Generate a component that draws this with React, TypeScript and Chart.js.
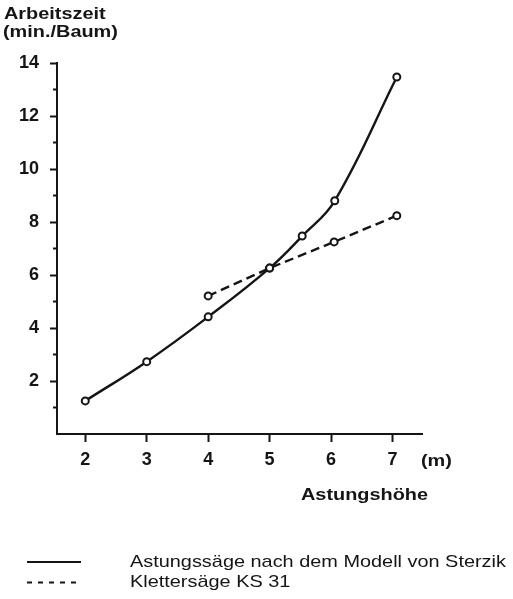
import { useEffect, useRef } from 'react'
import { Chart, registerables } from 'chart.js'

Chart.register(...registerables)

// Astungshöhe (m) / Arbeitszeit (min./Baum)
const sterzikX = [2, 3, 4, 5, 5.53, 6.06, 7.07]
const sterzikY = [1.25, 2.73, 4.42, 6.26, 7.47, 8.8, 13.47]
const ks31X = [4, 5, 6.05, 7.07]
const ks31Y = [5.21, 6.26, 7.25, 8.24]

const xTicks = [2, 3, 4, 5, 6, 7]
const yTicks = [1, 2, 3, 4, 5, 6, 7, 8, 9, 10, 11, 12, 13, 14]

const seriesLabels = ['Astungssäge nach dem Modell von Sterzik', 'Klettersäge KS 31']
const yTitle = ['Arbeitszeit', '(min./Baum)']
const xTitle = 'Astungshöhe'
const xUnit = '(m)'

const INK = '#151515'
const FONT = "'Liberation Sans', Arial, sans-serif"

// the original text is a little wider than Arial, stretch it
function stretchText(ctx: CanvasRenderingContext2D, text: string, x: number, y: number, font: string) {
  ctx.save()
  ctx.translate(x, y)
  ctx.scale(1.17, 1)
  ctx.font = font
  ctx.fillStyle = INK
  ctx.textAlign = 'left'
  ctx.textBaseline = 'alphabetic'
  ctx.fillText(text, 0, 0)
  ctx.restore()
}

const textPlugin = {
  id: 'extraText',
  afterDraw(chart: Chart) {
    const ctx = chart.ctx
    const bold = `bold 17px ${FONT}`
    const plain = `17px ${FONT}`

    stretchText(ctx, yTitle[0], 4, 18.5, bold)
    stretchText(ctx, yTitle[1], 3, 37, bold)
    stretchText(ctx, xUnit, 421, 465.5, bold)
    stretchText(ctx, xTitle, 301, 500, bold)

    // legend
    ctx.save()
    ctx.strokeStyle = INK
    ctx.lineWidth = 2
    ctx.beginPath()
    ctx.moveTo(27, 562)
    ctx.lineTo(81, 562)
    ctx.stroke()
    ctx.setLineDash([5, 6])
    ctx.beginPath()
    ctx.moveTo(27, 582.5)
    ctx.lineTo(77, 582.5)
    ctx.stroke()
    ctx.restore()
    stretchText(ctx, seriesLabels[0], 130, 567, plain)
    stretchText(ctx, seriesLabels[1], 130, 587, plain)
  },
}

export default function App() {
  const canvasRef = useRef<HTMLCanvasElement>(null)

  useEffect(() => {
    if (!canvasRef.current) return
    const pointStyle = {
      pointRadius: 3.5,
      pointBorderWidth: 2,
      pointBackgroundColor: '#ffffff',
      pointBorderColor: INK,
      borderColor: INK,
      borderWidth: 2.4,
      fill: false,
      clip: false as const,
    }
    const chart = new Chart(canvasRef.current, {
      type: 'line',
      data: {
        datasets: [
          {
            label: seriesLabels[0],
            data: sterzikX.map((x, i) => ({ x, y: sterzikY[i] })),
            tension: 0.4,
            ...pointStyle,
          },
          {
            label: seriesLabels[1],
            data: ks31X.map((x, i) => ({ x, y: ks31Y[i] })),
            tension: 0,
            borderDash: [9, 5],
            ...pointStyle,
          },
        ],
      },
      options: {
        responsive: false,
        animation: false,
        layout: { padding: { left: 0, top: 63, right: 91, bottom: 125 } },
        plugins: {
          legend: { display: false },
          tooltip: { enabled: false },
        },
        scales: {
          x: {
            type: 'linear',
            min: 1.54,
            max: 7.48,
            afterBuildTicks: (scale: any) => {
              scale.ticks = xTicks.map((v) => ({ value: v }))
            },
            afterFit: (scale: any) => {
              scale.height = 40
            },
            border: { display: true, color: INK, width: 2 },
            grid: { drawOnChartArea: false, tickLength: 8, tickColor: INK, tickWidth: 2 },
            ticks: {
              color: INK,
              padding: 7,
              font: { family: FONT, size: 18, weight: 'bold' },
              callback: (v: any) => String(v),
            },
          },
          y: {
            type: 'linear',
            min: 0,
            max: 14,
            afterBuildTicks: (scale: any) => {
              scale.ticks = yTicks.map((v) => ({ value: v }))
            },
            afterFit: (scale: any) => {
              scale.width = 57
            },
            border: { display: true, color: INK, width: 2 },
            grid: {
              drawOnChartArea: false,
              tickLength: 7,
              tickColor: INK,
              tickWidth: 2,
              // odd values get a short tick: dash starts with a gap
              tickBorderDash: (c: any) => (c.tick && c.tick.value % 2 ? [4, 3] : []),
              tickBorderDashOffset: (c: any) => (c.tick && c.tick.value % 2 ? 4 : 0),
            },
            ticks: {
              color: INK,
              padding: 11,
              font: { family: FONT, size: 18, weight: 'bold' },
              callback: (v: any) => (Number(v) % 2 === 0 ? String(v) : ''),
            },
          },
        },
      },
      plugins: [textPlugin],
    } as any)

    return () => {
      chart.destroy()
    }
  }, [])

  return (
    <div style={{ position: 'fixed', left: 0, top: 0, width: 513, height: 599, background: '#fff' }}>
      <canvas ref={canvasRef} width={513} height={599} />
    </div>
  )
}
